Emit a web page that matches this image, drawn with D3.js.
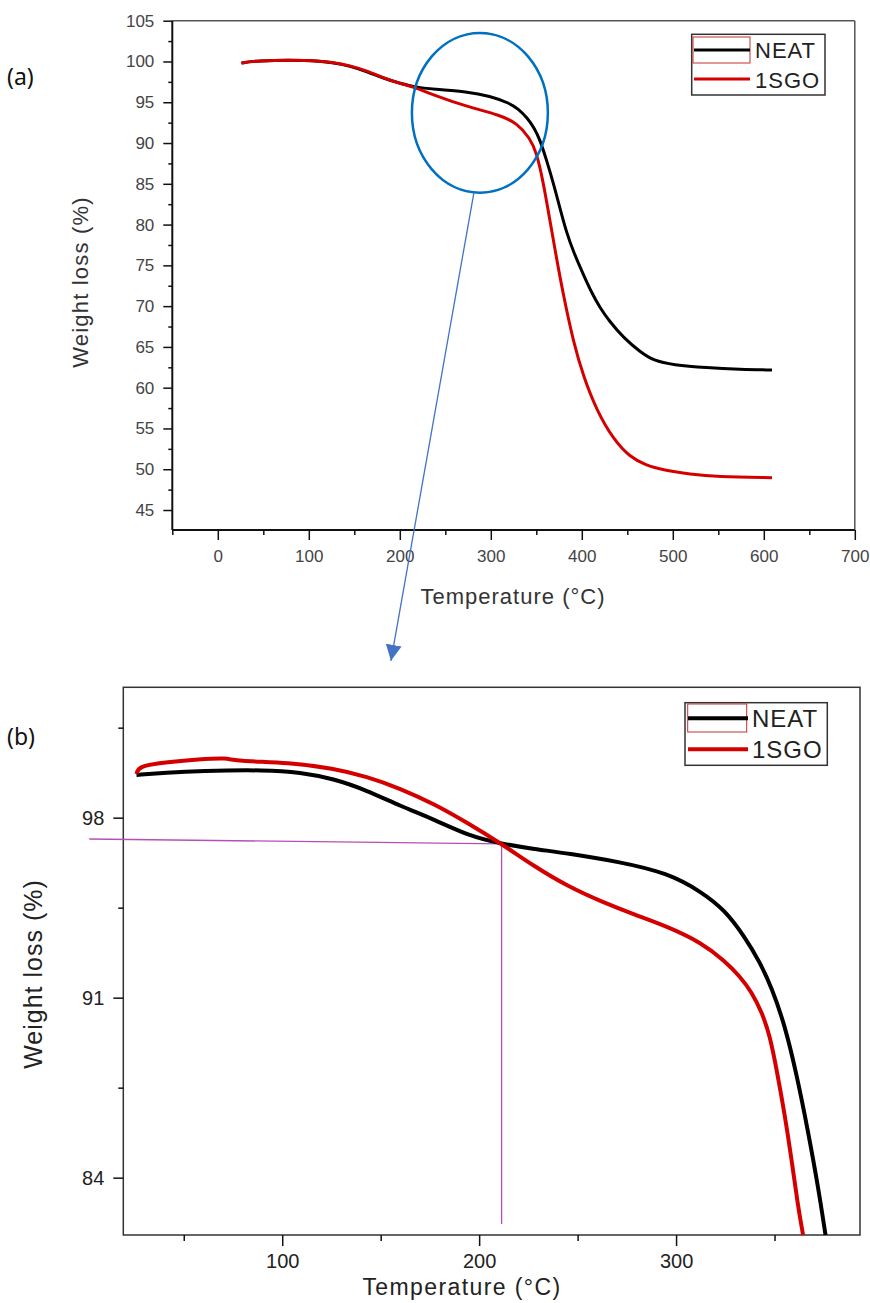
<!DOCTYPE html>
<html><head><meta charset="utf-8">
<script src="https://cdn.jsdelivr.net/npm/d3@7"></script>
<style>body{margin:0;background:#fff}svg{display:block}</style>
</head><body>
<svg id="c" width="870" height="1303"></svg>
<script>
// ---------- DATA ----------
const seriesNames = ["NEAT", "1SGO"];
const seriesColors = ["#000000", "#d40000"];

// Panel (a): full TGA curves
const neatTempA   = [26, 39, 101, 127, 145, 164, 182, 200, 215, 237, 274, 299, 321, 330, 340, 348, 354, 361, 369, 376, 383, 391, 402, 411, 420, 430, 446, 464, 479, 500, 537, 574, 609];
const neatWeightA = [99.8, 100.1, 100.18, 99.85, 99.45, 98.75, 97.94, 97.32, 96.9, 96.59, 96.3, 95.77, 94.87, 94.2, 93.1, 91.8, 90.4, 88.0, 85.0, 82.0, 79.1, 76.6, 73.8, 71.6, 69.8, 68.2, 66.1, 64.4, 63.3, 62.8, 62.45, 62.25, 62.17];
const sgoTempA    = [26, 39, 101, 127, 145, 164, 182, 200, 215, 237, 274, 310, 329, 343, 350, 357, 365, 372, 380, 391, 402, 416, 435, 453, 470, 490, 519, 548, 609];
const sgoWeightA  = [99.8, 100.1, 100.18, 99.9, 99.5, 98.85, 98.0, 97.3, 96.9, 95.89, 94.45, 93.44, 92.42, 90.6, 88.9, 85.6, 80.5, 76.0, 71.2, 65.5, 61.3, 57.3, 53.6, 51.5, 50.5, 49.9, 49.4, 49.08, 48.96];

// Panel (b): zoomed region
const neatTempB   = [26, 41, 58, 92, 109, 126, 143, 160, 177.5, 194.4, 211.4, 228, 245.2, 270.6, 295.8, 313, 324.7, 334.9, 342.5, 348.6, 355.2, 361.3, 366.9, 372, 375.9];
const neatWeightB = [99.66, 99.75, 99.82, 99.86, 99.76, 99.52, 99.06, 98.45, 97.92, 97.3, 96.98, 96.78, 96.61, 96.29, 95.85, 95.11, 94.41, 93.36, 92.39, 91.38, 89.94, 87.99, 85.85, 83.71, 81.77];
const sgoTempB    = [26, 27, 40, 58, 72, 76, 104, 125.9, 142.9, 159.8, 177.5, 194.4, 211.4, 228.3, 245.2, 262.2, 279.1, 295.8, 313.1, 324.7, 332.3, 338.4, 343.5, 347.6, 351.6, 355.2, 358.7, 361.8, 364.5];
const sgoWeightB  = [99.7, 100.0, 100.15, 100.27, 100.33, 100.2, 100.14, 99.92, 99.6, 99.14, 98.52, 97.78, 96.98, 96.09, 95.32, 94.73, 94.22, 93.76, 93.13, 92.43, 91.84, 91.22, 90.44, 89.55, 87.99, 86.44, 84.69, 82.94, 81.77];

// Axis ticks
const xTicksA = [0, 100, 200, 300, 400, 500, 600, 700];
const xMinorA = [-50, 50, 150, 250, 350, 450, 550, 650];
const yTicksA = [45, 50, 55, 60, 65, 70, 75, 80, 85, 90, 95, 100, 105];
const yMinorA = [47.5, 52.5, 57.5, 62.5, 67.5, 72.5, 77.5, 82.5, 87.5, 92.5, 97.5, 102.5];
const xTicksB = [100, 200, 300];
const xMinorB = [50, 150, 250, 350];
const yTicksB = [84, 91, 98];
const yMinorB = [87.5, 94.5, 101.5];

// Annotations
const crossover = {t: 211.4, w: 96.98};
const guideStart = {t: 2, w: 97.17};
const guideBottomW = 82.2;
const zoomEllipse = {t: 288, w: 93.7, rt: 74.7, rw: 9.8};
const arrowTipB = {t: 155.2, w: 104.1};

// ---------- DRAW ----------
const svg = d3.select("#c");
const AR = "'Liberation Sans', Arial, sans-serif";

const xa = d3.scaleLinear().domain([-50, 700]).range([172.3, 854.8]);
const ya = d3.scaleLinear().domain([42.55, 105]).range([530, 20.7]);
const xb = d3.scaleLinear().domain([19.3, 393.4]).range([123.3, 860]);
const yb = d3.scaleLinear().domain([81.77, 103.07]).range([1235, 687.3]);

function zip(t, w) { return t.map((d, i) => ({t: d, w: w[i]})); }

const defs = svg.append("defs");
defs.append("clipPath").attr("id", "clipA").append("rect")
  .attr("x", xa.range()[0]).attr("y", ya.range()[1])
  .attr("width", xa.range()[1] - xa.range()[0]).attr("height", ya.range()[0] - ya.range()[1]);
defs.append("clipPath").attr("id", "clipB").append("rect")
  .attr("x", xb.range()[0]).attr("y", yb.range()[1])
  .attr("width", xb.range()[1] - xb.range()[0]).attr("height", yb.range()[0] - yb.range()[1]);

function styleAxis(g, color, fs, fam) {
  g.select(".domain").remove();
  g.selectAll("line").attr("stroke", "#111").attr("stroke-width", 1.5);
  g.selectAll("text").attr("fill", color).attr("font-size", fs).attr("font-family", fam);
}

// ===== Panel (a) =====
const pa = svg.append("g");
pa.append("line").attr("x1", xa.range()[0]).attr("x2", xa.range()[1]).attr("y1", ya.range()[1]).attr("y2", ya.range()[1]).attr("stroke", "#555").attr("stroke-width", 1.5);
pa.append("line").attr("x1", xa.range()[1]).attr("x2", xa.range()[1]).attr("y1", ya.range()[1]).attr("y2", ya.range()[0]).attr("stroke", "#555").attr("stroke-width", 1.5);

const gxa = pa.append("g").attr("transform", `translate(0,${ya.range()[0]})`)
  .call(d3.axisBottom(xa).tickValues(xTicksA).tickSize(10).tickPadding(10).tickFormat(d3.format("d")));
styleAxis(gxa, "#444", 17, AR);
const gxam = pa.append("g").attr("transform", `translate(0,${ya.range()[0]})`)
  .call(d3.axisBottom(xa).tickValues(xMinorA).tickSize(5).tickFormat(""));
styleAxis(gxam, "#444", 17, AR);
const gya = pa.append("g").attr("transform", `translate(${xa.range()[0]},0)`)
  .call(d3.axisLeft(ya).tickValues(yTicksA).tickSize(9).tickPadding(9).tickFormat(d3.format("d")));
styleAxis(gya, "#444", 17, AR);
const gyam = pa.append("g").attr("transform", `translate(${xa.range()[0]},0)`)
  .call(d3.axisLeft(ya).tickValues(yMinorA).tickSize(4).tickFormat(""));
styleAxis(gyam, "#444", 17, AR);
pa.append("line").attr("x1", xa.range()[0]).attr("x2", xa.range()[1]).attr("y1", ya.range()[0]).attr("y2", ya.range()[0]).attr("stroke", "#111").attr("stroke-width", 2);
pa.append("line").attr("x1", xa.range()[0]).attr("x2", xa.range()[0]).attr("y1", ya.range()[1]).attr("y2", ya.range()[0]).attr("stroke", "#111").attr("stroke-width", 2);

const lineA = d3.line().x(d => xa(d.t)).y(d => ya(d.w)).curve(d3.curveBasis);
const dataA = [zip(neatTempA, neatWeightA), zip(sgoTempA, sgoWeightA)];
pa.append("g").attr("clip-path", "url(#clipA)").selectAll("path").data(dataA).join("path")
  .attr("d", lineA).attr("fill", "none").attr("stroke", (d, i) => seriesColors[i]).attr("stroke-width", 3);

pa.append("text").attr("x", 513).attr("y", 604).attr("text-anchor", "middle")
  .attr("font-family", AR).attr("font-size", 22).attr("letter-spacing", 1).attr("fill", "#333")
  .text("Temperature (°C)");
pa.append("text").attr("transform", "translate(88,282) rotate(-90)").attr("text-anchor", "middle")
  .attr("font-family", AR).attr("font-size", 22).attr("letter-spacing", 1.2).attr("fill", "#333")
  .text("Weight loss (%)");

// legend (a)
const lgA = pa.append("g");
lgA.append("rect").attr("x", 691.7).attr("y", 34.3).attr("width", 133.3).attr("height", 60.7).attr("fill", "#fff").attr("stroke", "#333").attr("stroke-width", 1.5);
lgA.append("rect").attr("x", 693).attr("y", 37).attr("width", 57).attr("height", 26).attr("fill", "none").attr("stroke", "#c03030").attr("stroke-width", 1);
seriesNames.forEach((n, i) => {
  const yy = [50, 79][i];
  lgA.append("line").attr("x1", 694).attr("x2", 750).attr("y1", yy).attr("y2", yy).attr("stroke", seriesColors[i]).attr("stroke-width", 3);
  lgA.append("text").attr("x", 755).attr("y", [58.3, 88.3][i]).attr("font-family", AR).attr("font-size", 22)
    .attr("letter-spacing", 1).attr("fill", "#222").text(n);
});

// ellipse + arrow
const ex = xa(zoomEllipse.t), ey = ya(zoomEllipse.w);
const erx = xa(zoomEllipse.t + zoomEllipse.rt) - ex, ery = ey - ya(zoomEllipse.w + zoomEllipse.rw);
svg.append("ellipse").attr("cx", ex).attr("cy", ey).attr("rx", erx).attr("ry", ery)
  .attr("fill", "none").attr("stroke", "#0070c0").attr("stroke-width", 2.5);

defs.append("marker").attr("id", "arr").attr("viewBox", "0 0 10 10").attr("refX", 10).attr("refY", 5)
  .attr("markerWidth", 16).attr("markerHeight", 16).attr("markerUnits", "userSpaceOnUse").attr("orient", "auto")
  .append("path").attr("d", "M0,0 L10,5 L0,10 z").attr("fill", "#4472c4");
const ax0 = ex - 6, ay0 = ey + ery;
svg.append("line").attr("x1", ax0).attr("y1", ay0).attr("x2", xb(arrowTipB.t)).attr("y2", yb(arrowTipB.w))
  .attr("stroke", "#4472c4").attr("stroke-width", 1.3).attr("marker-end", "url(#arr)");

svg.append("text").attr("x", 7).attr("y", 85).attr("font-family", "'Noto Sans', 'Open Sans', sans-serif").attr("font-size", 23).attr("fill", "#111").text("(a)");
svg.append("text").attr("x", 7).attr("y", 745).attr("font-family", "'Noto Sans', 'Open Sans', sans-serif").attr("font-size", 23).attr("fill", "#111").text("(b)");

// ===== Panel (b) =====
const pb = svg.append("g");
pb.append("rect").attr("x", xb.range()[0]).attr("y", yb.range()[1])
  .attr("width", xb.range()[1] - xb.range()[0]).attr("height", yb.range()[0] - yb.range()[1])
  .attr("fill", "none").attr("stroke", "#333").attr("stroke-width", 1.5);

const gxb = pb.append("g").attr("transform", `translate(0,${yb.range()[0]})`)
  .call(d3.axisBottom(xb).tickValues(xTicksB).tickSize(11).tickPadding(8).tickFormat(d3.format("d")));
styleAxis(gxb, "#222", 20, AR);
const gxbm = pb.append("g").attr("transform", `translate(0,${yb.range()[0]})`)
  .call(d3.axisBottom(xb).tickValues(xMinorB).tickSize(6).tickFormat(""));
styleAxis(gxbm, "#222", 20, AR);
const gyb = pb.append("g").attr("transform", `translate(${xb.range()[0]},0)`)
  .call(d3.axisLeft(yb).tickValues(yTicksB).tickSize(10).tickPadding(9).tickFormat(d3.format("d")));
styleAxis(gyb, "#222", 20, AR);
const gybm = pb.append("g").attr("transform", `translate(${xb.range()[0]},0)`)
  .call(d3.axisLeft(yb).tickValues(yMinorB).tickSize(5).tickFormat(""));
styleAxis(gybm, "#222", 20, AR);

pb.append("line").attr("x1", xb(guideStart.t)).attr("y1", yb(guideStart.w)).attr("x2", xb(crossover.t)).attr("y2", yb(crossover.w))
  .attr("stroke", "#b54fb5").attr("stroke-width", 1.3);
pb.append("line").attr("x1", xb(crossover.t)).attr("y1", yb(crossover.w)).attr("x2", xb(crossover.t)).attr("y2", yb(guideBottomW))
  .attr("stroke", "#b54fb5").attr("stroke-width", 1.3);

const lineB = d3.line().x(d => xb(d.t)).y(d => yb(d.w)).curve(d3.curveBasis);
const dataB = [zip(neatTempB, neatWeightB), zip(sgoTempB, sgoWeightB)];
pb.append("g").attr("clip-path", "url(#clipB)").selectAll("path").data(dataB).join("path")
  .attr("d", lineB).attr("fill", "none").attr("stroke", (d, i) => seriesColors[i]).attr("stroke-width", 4);

pb.append("text").attr("x", 462).attr("y", 1295).attr("text-anchor", "middle")
  .attr("font-family", AR).attr("font-size", 23).attr("letter-spacing", 1.4).attr("fill", "#222")
  .text("Temperature (°C)");
pb.append("text").attr("transform", "translate(42,974) rotate(-90)").attr("text-anchor", "middle")
  .attr("font-family", AR).attr("font-size", 25).attr("letter-spacing", 1).attr("fill", "#222")
  .text("Weight loss (%)");

// legend (b)
const lgB = pb.append("g");
lgB.append("rect").attr("x", 685).attr("y", 702.7).attr("width", 142.3).attr("height", 62.6).attr("fill", "#fff").attr("stroke", "#333").attr("stroke-width", 1.5);
lgB.append("rect").attr("x", 687.7).attr("y", 704).attr("width", 59).attr("height", 28).attr("fill", "none").attr("stroke", "#c03030").attr("stroke-width", 1);
seriesNames.forEach((n, i) => {
  const yy = [718.3, 749.3][i];
  lgB.append("line").attr("x1", 688).attr("x2", 748).attr("y1", yy).attr("y2", yy).attr("stroke", seriesColors[i]).attr("stroke-width", 4);
  lgB.append("text").attr("x", 752).attr("y", [726.7, 758.3][i]).attr("font-family", AR).attr("font-size", 24)
    .attr("letter-spacing", 1).attr("fill", "#222").text(n);
});
</script>
</body></html>
